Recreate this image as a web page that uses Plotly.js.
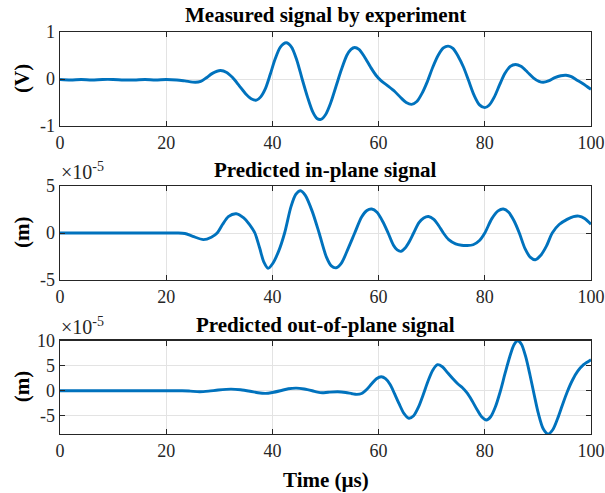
<!DOCTYPE html>
<html>
<head>
<meta charset="utf-8">
<script src="https://cdn.plot.ly/plotly-3.0.1.min.js"></script>
<style>html,body{margin:0;padding:0;background:#fff;}#chart{width:605px;height:493px;}</style>
</head>
<body>
<div id="chart"></div>
<script>
// Measured signal (V) vs time (µs)
const measT = [0,2,4,6,8,10,12,14,16,18,20,22,23.5,25.5,26.5,27.5,28.7,30.2,31.4,32.5,33.8,35,36,37,37.8,38.7,39.6,40.5,41.5,42.6,43.6,44.6,45.6,46.6,47.6,48.4,49.1,50,51,52,53,54,54.8,55.5,56.3,57.3,58.5,59.5,60.5,61.8,63,64.2,65.2,66.2,67.2,68.2,69.2,70.2,71.2,72.2,73.1,74,75,76,77,78,79,80,80.8,81.8,82.8,83.8,84.8,85.8,86.8,88,89.2,90.2,91,92,93.2,94.3,95.3,96.3,97.3,98.5,100];
const measV = [-0.01,-0.02,-0.01,-0.02,-0.01,-0.01,-0.02,-0.02,-0.01,-0.02,-0.01,-0.02,-0.04,-0.07,-0.05,0.02,0.12,0.18,0.14,0.03,-0.15,-0.32,-0.42,-0.45,-0.38,-0.2,0.1,0.42,0.68,0.77,0.68,0.4,0.0,-0.38,-0.7,-0.84,-0.86,-0.76,-0.5,-0.15,0.2,0.5,0.63,0.67,0.63,0.48,0.25,0.08,-0.04,-0.15,-0.26,-0.4,-0.5,-0.54,-0.48,-0.3,-0.05,0.25,0.5,0.66,0.70,0.65,0.48,0.25,-0.05,-0.35,-0.55,-0.61,-0.56,-0.38,-0.12,0.12,0.27,0.31,0.27,0.15,0.02,-0.05,-0.07,-0.04,0.03,0.07,0.08,0.05,-0.02,-0.1,-0.22];

// Predicted in-plane signal (x1e-5 m)
const inT = [0,10,20,22,23.5,25,27,28.5,29.6,30.6,31.7,33.2,34.6,35.7,36.7,37.6,38.4,39.2,40.0,41.2,42.3,43.5,44.4,45.3,46.2,47.5,48.8,50.2,51.1,52.0,53.0,54.3,55.5,56.8,57.8,58.7,59.7,60.8,61.8,62.8,63.5,64.2,65.0,65.8,66.6,67.6,68.5,69.4,70.4,71.3,72.2,73.2,74.5,75.6,76.7,77.8,79,80,81.3,82.5,83.5,84.5,85.5,86.5,87.6,88.6,89.5,90.5,91.6,92.7,94,95.5,96.7,97.7,98.8,100];
const inV = [0,0,0,0,-0.05,-0.35,-0.7,-0.45,0,0.9,1.75,2.05,1.6,0.9,0,-1.6,-3.1,-3.75,-3.3,-1.9,0,2.8,4.1,4.5,4.0,2.3,0,-2.6,-3.5,-3.7,-3.2,-1.6,0,1.7,2.4,2.55,2.2,1.2,0,-1.3,-1.8,-1.95,-1.6,-0.9,0,1.1,1.6,1.75,1.45,0.8,0,-0.7,-1.15,-1.3,-1.33,-1.25,-0.8,0,1.5,2.35,2.55,2.2,1.3,0,-1.7,-2.6,-2.85,-2.4,-1.4,0,0.9,1.45,1.75,1.8,1.55,0.93];

// Predicted out-of-plane signal (x1e-5 m)
const outT = [0,10,20,23,24.5,26.3,28,29.8,32.2,34,35.8,37.3,38.7,40,41.5,43,44.5,46,47.5,48.5,49.4,50.5,52.3,53.8,55,55.9,56.8,57.8,58.7,59.6,60.5,61.3,62.2,63,63.9,64.8,65.7,66.6,67.5,68.4,69.3,70.2,71.1,72,73,74,74.9,75.8,76.7,77.6,78.5,79.4,80.3,81.1,82,82.9,83.8,84.7,85.5,86.2,86.9,87.7,88.5,89.3,90.1,91,91.9,92.8,93.7,94.6,95.5,96.5,97.5,98.6,100];
const outV = [0,0,0,0,-0.08,-0.2,-0.08,0.15,0.33,0.2,-0.1,-0.4,-0.53,-0.35,0,0.4,0.53,0.35,0.0,-0.28,-0.4,-0.3,-0.2,-0.35,-0.6,-0.73,-0.55,0.3,1.4,2.4,2.8,2.4,1.2,-0.6,-2.7,-4.6,-5.5,-5.0,-3.3,-0.8,1.9,4.1,5.2,4.8,3.6,2.4,1.4,0.6,-0.5,-2.0,-3.7,-5.2,-5.85,-5.2,-3.2,-0.2,3.4,6.8,9.2,10.0,9.3,6.8,3.2,-0.8,-4.6,-7.6,-8.65,-7.8,-5.6,-2.9,-0.3,2.1,3.9,5.2,6.2];

const xTicks = [0,20,40,60,80,100];
const y1Ticks = [-1,0,1], y1Text = ['-1','0','1'];
const y2Ticks = [-5,0,5], y2Text = ['-5','0','5'];
const y3Ticks = [-5,0,5,10], y3Text = ['-5','0','5','10'];
const titles = ['Measured signal by experiment','Predicted in-plane signal','Predicted out-of-plane signal'];
const yLabels = ['(V)','(m)','(m)'];
const xLabel = 'Time (µs)';

const W = 605, H = 493;
const px = v => v / W, py = v => 1 - v / H;
const L = 60, R = 591;
const boxes = [[32,126],[186,280],[340.7,434]];

const lineStyle = {color:'#0072BD', width:2.9, shape:'spline', smoothing:0.8};
const traces = [
  {x:measT, y:measV, xaxis:'x', yaxis:'y', mode:'lines', line:lineStyle},
  {x:inT, y:inV, xaxis:'x2', yaxis:'y2', mode:'lines', line:lineStyle},
  {x:outT, y:outV, xaxis:'x3', yaxis:'y3', mode:'lines', line:lineStyle}
];

const FAM = 'Liberation Serif, Times New Roman, serif';
const tickFont = {family:FAM, size:18, color:'#262626'};
function common(){
  return {ticks:'inside', ticklen:5, tickwidth:1, tickcolor:'#262626', mirror:'ticks',
    showline:true, linecolor:'#262626', linewidth:1.3, showgrid:true, gridcolor:'#e3e3e3', gridwidth:1,
    zeroline:false, tickfont:tickFont, fixedrange:true};
}
function xax(i){
  return Object.assign(common(), {domain:[px(L),px(R)], anchor:'y'+(i?i+1:''), range:[0,100],
    tickmode:'array', tickvals:xTicks, ticktext:xTicks.map(String)});
}
function yax(i, range, ticks, text){
  return Object.assign(common(), {domain:[py(boxes[i][1]), py(boxes[i][0])], anchor:'x'+(i?i+1:''),
    range:range, tickmode:'array', tickvals:ticks, ticktext:text});
}

const ann = [];
const titleY = [15, 170, 325];
const boldFont = {family:FAM, size:21, color:'#000'};
titles.forEach((t,i)=>ann.push({text:'<b>'+t+'</b>', xref:'paper', yref:'paper', x:px((L+R)/2), y:py(titleY[i]),
  xanchor:'center', yanchor:'middle', showarrow:false, font:boldFont}));
yLabels.forEach((t,i)=>ann.push({text:'<b>'+t+'</b>', xref:'paper', yref:'paper', x:px(22), y:py((boxes[i][0]+boxes[i][1])/2),
  xanchor:'center', yanchor:'middle', textangle:-90, showarrow:false, font:boldFont}));
ann.push({text:'<b>'+xLabel+'</b>', xref:'paper', yref:'paper', x:px((L+R)/2), y:py(480),
  xanchor:'center', yanchor:'middle', showarrow:false, font:boldFont});
[1,2].forEach(i=>ann.push({text:'×10<sup>-5</sup>', xref:'paper', yref:'paper', x:px(L-1), y:py(boxes[i][0]-1),
  xanchor:'left', yanchor:'bottom', showarrow:false, font:{family:FAM, size:20, color:'#262626'}}));

const layout = {
  width:W, height:H, margin:{l:0,r:0,t:0,b:0}, paper_bgcolor:'#fff', plot_bgcolor:'#fff',
  showlegend:false, font:{family:FAM, color:'#262626'},
  xaxis:xax(0), xaxis2:xax(1), xaxis3:xax(2),
  yaxis:yax(0,[-1,1],y1Ticks,y1Text),
  yaxis2:yax(1,[-5,5],y2Ticks,y2Text),
  yaxis3:yax(2,[-8.65,10],y3Ticks,y3Text),
  annotations:ann
};
Plotly.newPlot('chart', traces, layout, {staticPlot:true, displayModeBar:false});
</script>
</body>
</html>
